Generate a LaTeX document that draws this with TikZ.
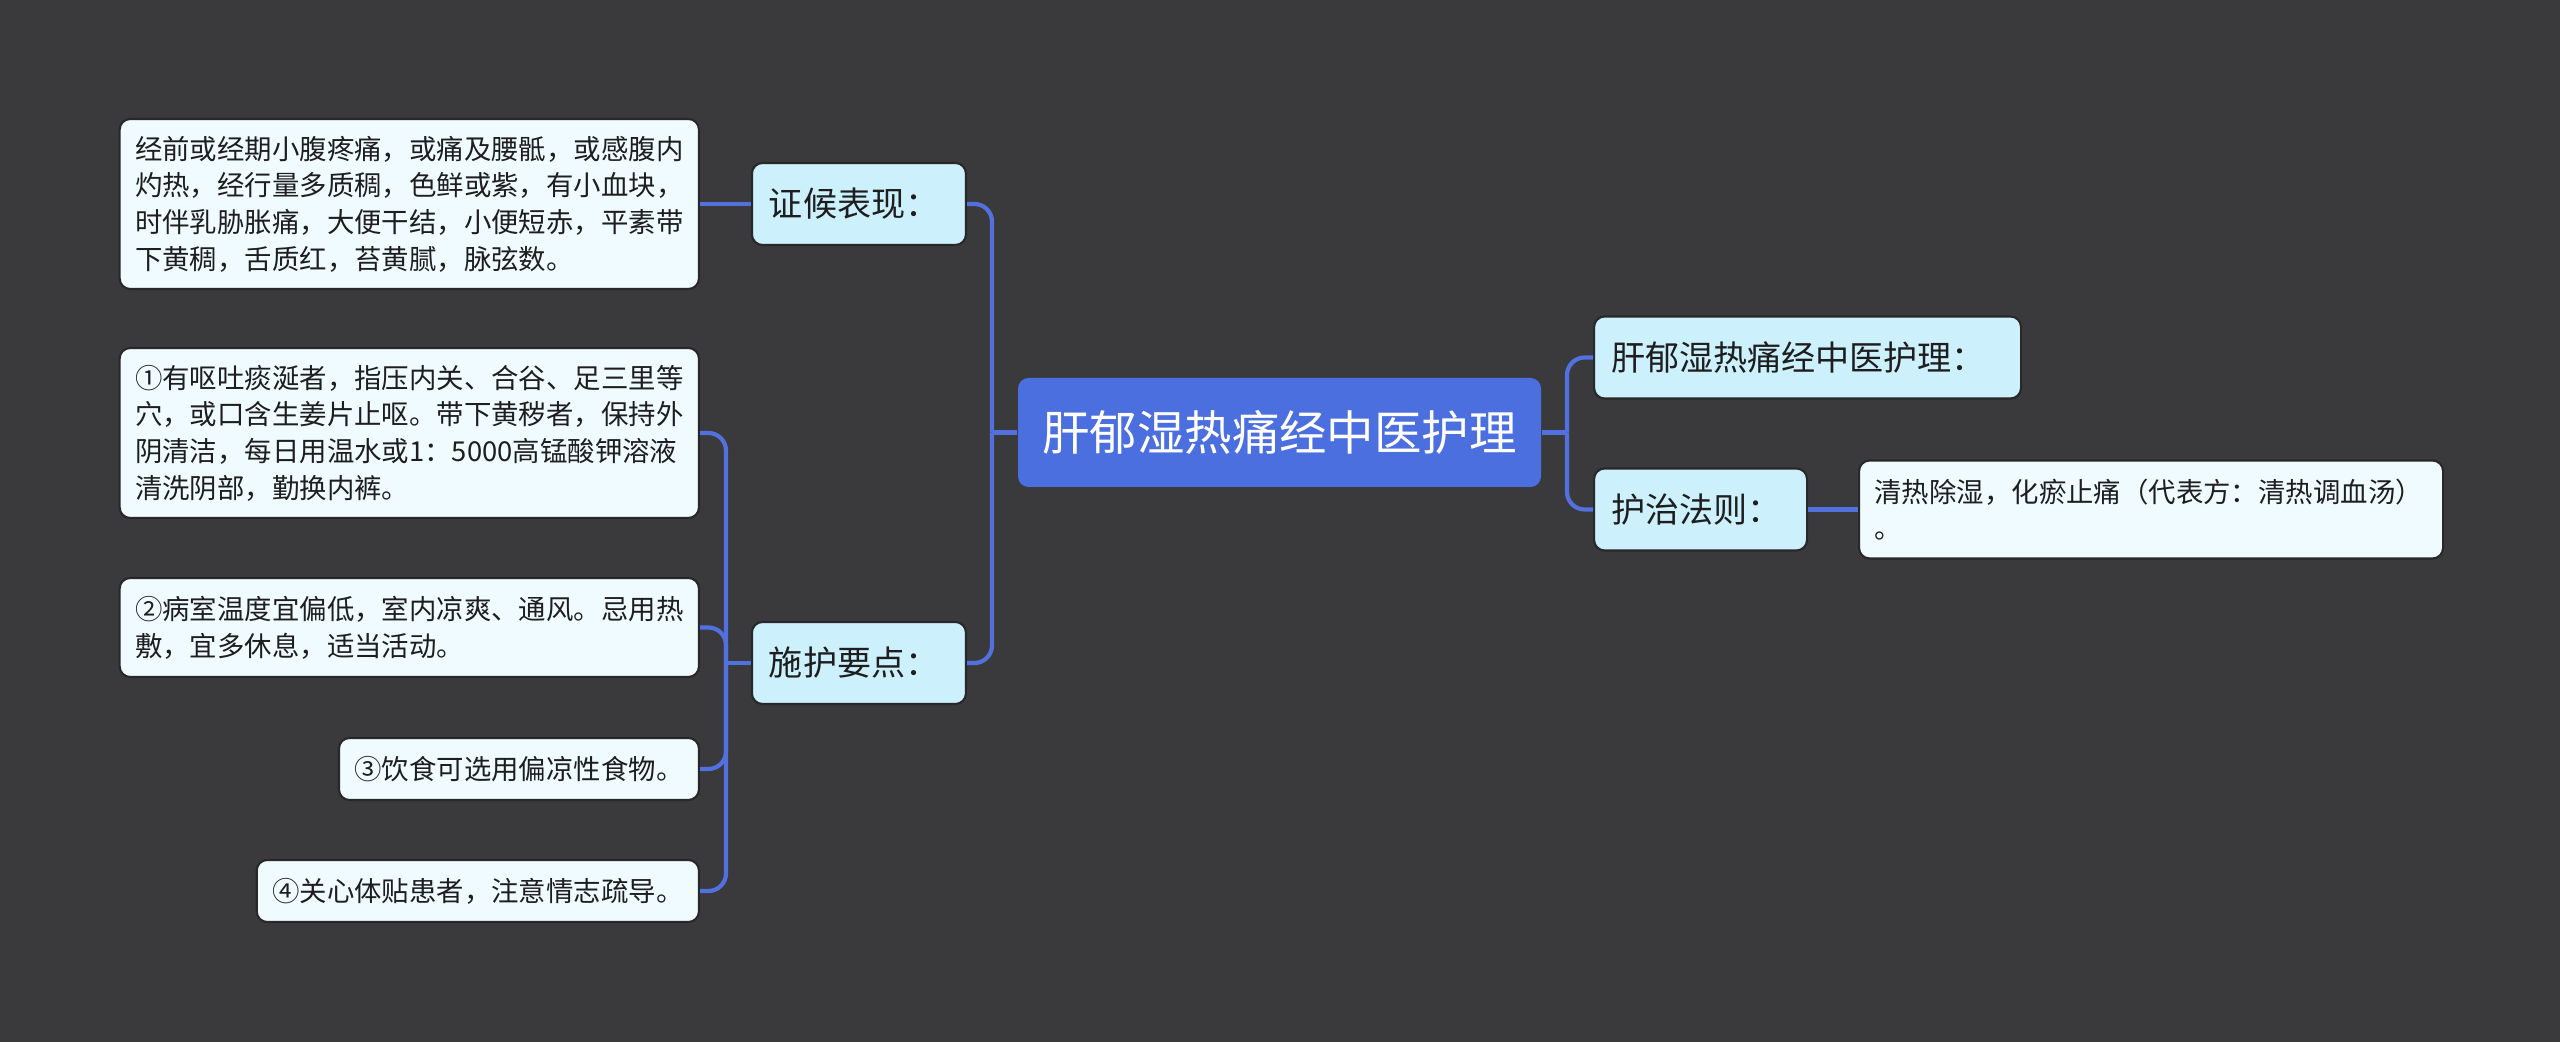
\documentclass[tikz,border=0pt]{standalone}
\usepackage{fontspec}
\setmainfont{Noto Sans CJK SC}
\definecolor{bgdark}{RGB}{58,57,59}
\definecolor{rootblue}{RGB}{76,111,224}
\definecolor{linkblue}{RGB}{82,112,222}
\definecolor{topicfill}{RGB}{205,240,253}
\definecolor{leaffill}{RGB}{240,251,255}
\definecolor{boxedge}{RGB}{40,40,42}
\definecolor{inktext}{RGB}{30,30,30}
\begin{document}
\begin{tikzpicture}[
  rootbox/.style={fill=rootblue,rounded corners=3pt,text=white,inner sep=0pt,
    minimum width=5.23cm,minimum height=1.09cm,font=\fontsize{13.5}{16}\selectfont},
  topic/.style={draw=boxedge,line width=0.6pt,fill=topicfill,rounded corners=3pt,text=inktext,
    inner xsep=0.17cm,minimum height=0.82cm,align=left,font=\fontsize{9.7}{12}\selectfont},
  leaf/.style={draw=boxedge,line width=0.6pt,fill=leaffill,rounded corners=3pt,text=inktext,
    inner xsep=0.155cm,align=left,font=\fontsize{7.8}{10.44}\selectfont},
  link/.style={draw=linkblue,line width=1.2pt,rounded corners=5pt}]
\fill[bgdark] (0,0) rectangle (25.6,10.42);
\useasboundingbox (0,0) rectangle (25.6,10.42);
% centre
\node[rootbox] (root) at (12.795,6.095) {肝郁湿热痛经中医护理};
% left side
\node[topic,anchor=east,text width=1.80cm] (zhenghou) at (9.67,8.38) {证候表现：};
\node[topic,anchor=east,text width=1.80cm] (shihu) at (9.67,3.79) {施护要点：};
\node[leaf,anchor=east,minimum height=1.70cm] (sign) at (7.00,8.38)
  {经前或经期小腹疼痛，或痛及腰骶，或感腹内\\灼热，经行量多质稠，色鲜或紫，有小血块，\\时伴乳胁胀痛，大便干结，小便短赤，平素带\\下黄稠，舌质红，苔黄腻，脉弦数。};
\node[leaf,anchor=east,minimum height=1.70cm] (care1) at (7.00,6.09)
  {①有呕吐痰涎者，指压内关、合谷、足三里等\\穴，或口含生姜片止呕。带下黄秽者，保持外\\阴清洁，每日用温水或1：5000高锰酸钾溶液\\清洗阴部，勤换内裤。};
\node[leaf,anchor=east,minimum height=0.99cm] (care2) at (7.00,4.145)
  {②病室温度宜偏低，室内凉爽、通风。忌用热\\敷，宜多休息，适当活动。};
\node[leaf,anchor=east,minimum height=0.62cm] (care3) at (7.00,2.73) {③饮食可选用偏凉性食物。};
\node[leaf,anchor=east,minimum height=0.62cm] (care4) at (7.00,1.51) {④关心体贴患者，注意情志疏导。};
% right side
\node[topic,anchor=west,text width=3.93cm] (title) at (15.93,6.845) {肝郁湿热痛经中医护理：};
\node[topic,anchor=west,text width=1.79cm] (rule) at (15.93,5.325) {护治法则：};
\node[leaf,anchor=west,minimum height=0.98cm,text width=5.53cm] (method) at (18.58,5.325)
  {清热除湿，化瘀止痛（代表方：清热调血汤）\\。};
% connectors
\coordinate (lbus) at (9.92,6.095);
\coordinate (rbus) at (15.67,6.095);
\coordinate (sbus) at (7.26,3.79);
\draw[link] (root.west) -- (lbus);
\draw[link] (lbus) |- (zhenghou.east);
\draw[link] (lbus) |- (shihu.east);
\draw[link] (root.east) -- (rbus);
\draw[link] (rbus) |- (title.west);
\draw[link] (rbus) |- (rule.west);
\draw[link] (zhenghou.west) -- (sign.east);
\draw[link] (rule.east) -- (method.west);
\draw[link] (shihu.west) -- (sbus);
\foreach \leafname in {care1,care2,care3,care4}
  \draw[link] (sbus) |- (\leafname.east);
\end{tikzpicture}
\end{document}
